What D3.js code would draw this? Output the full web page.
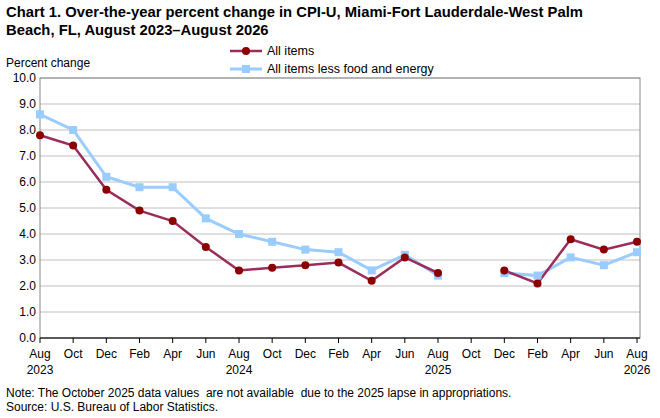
<!DOCTYPE html><html><head><meta charset="utf-8"><script src="https://cdn.jsdelivr.net/npm/d3@7"></script>
<style>body{margin:0;background:#fff}text{font-family:Arial,"Liberation Sans",sans-serif;white-space:pre}</style></head><body><svg id="c" width="660" height="418"></svg><script>
const months=["Aug","Oct","Dec","Feb","Apr","Jun","Aug","Oct","Dec","Feb","Apr","Jun","Aug","Oct","Dec","Feb","Apr","Jun","Aug"];
const years=["2023","","","","","","2024","","","","","","2025","","","","","","2026"];
const allItems=[7.8,7.4,5.7,4.9,4.5,3.5,2.6,2.7,2.8,2.9,2.2,3.1,2.5,null,2.6,2.1,3.8,3.4,3.7];
const core=[8.6,8.0,6.2,5.8,5.8,4.6,4.0,3.7,3.4,3.3,2.6,3.2,2.4,null,2.5,2.4,3.1,2.8,3.3];
const yTicks=d3.range(0,10.01,1);
const svg=d3.select("#c");
const L=40,R=640,T=78,B=338;
const x=d3.scaleLinear().domain([0,18]).range([L,R-3]);
const y=d3.scaleLinear().domain([0,10]).range([B,T]);
svg.append("text").attr("x",6).attr("y",17).attr("font-size",14.8).attr("font-weight","bold").text("Chart 1. Over-the-year percent change in CPI-U, Miami-Fort Lauderdale-West Palm");
svg.append("text").attr("x",6).attr("y",35).attr("font-size",14.8).attr("font-weight","bold").text("Beach, FL, August 2023\u2013August 2026");
svg.append("text").attr("x",6).attr("y",67).attr("font-size",12).text("Percent change");
svg.selectAll(".g").data(yTicks).join("line").attr("x1",L).attr("x2",R).attr("y1",d=>y(d)).attr("y2",d=>y(d)).attr("stroke","#c0c0c0");
svg.append("rect").attr("x",L).attr("y",T).attr("width",R-L).attr("height",B-T).attr("fill","none").attr("stroke","#888");
svg.append("line").attr("x1",L).attr("x2",R).attr("y1",B).attr("y2",B).attr("stroke","#000");
svg.selectAll(".yl").data(yTicks).join("text").attr("x",L-4).attr("y",d=>y(d)+4).attr("text-anchor","end").attr("font-size",12).text(d=>d.toFixed(1));
svg.selectAll(".xt").data(months).join("line").attr("x1",(d,i)=>x(i)).attr("x2",(d,i)=>x(i)).attr("y1",B).attr("y2",B+5).attr("stroke","#000");
svg.selectAll(".xl").data(months).join("text").attr("x",(d,i)=>x(i)).attr("y",B+20).attr("text-anchor","middle").attr("font-size",12).text(d=>d);
svg.selectAll(".yr").data(years).join("text").attr("x",(d,i)=>x(i)).attr("y",B+36).attr("text-anchor","middle").attr("font-size",12).text(d=>d);
const line=d3.line().defined(d=>d!=null).x((d,i)=>x(i)).y(d=>y(d));
const cb="#99CCFF", cr="#9B2D5B", cm="#8B0000";
svg.append("path").datum(core).attr("d",line).attr("fill","none").attr("stroke",cb).attr("stroke-width",3);
svg.append("path").datum(allItems).attr("d",line).attr("fill","none").attr("stroke",cr).attr("stroke-width",2.5);
core.forEach((d,i)=>{if(d!=null)svg.append("rect").attr("x",x(i)-4).attr("y",y(d)-4).attr("width",8).attr("height",8).attr("fill",cb);});
allItems.forEach((d,i)=>{if(d!=null)svg.append("circle").attr("cx",x(i)).attr("cy",y(d)).attr("r",4).attr("fill",cm);});
svg.append("line").attr("x1",230).attr("x2",262).attr("y1",51).attr("y2",51).attr("stroke",cr).attr("stroke-width",2.5);
svg.append("circle").attr("cx",246).attr("cy",51).attr("r",4).attr("fill",cm);
svg.append("text").attr("x",267).attr("y",55).attr("font-size",12.5).text("All items");
svg.append("line").attr("x1",230).attr("x2",262).attr("y1",69).attr("y2",69).attr("stroke",cb).attr("stroke-width",3);
svg.append("rect").attr("x",242).attr("y",65).attr("width",8).attr("height",8).attr("fill",cb);
svg.append("text").attr("x",267).attr("y",73).attr("font-size",12.5).text("All items less food and energy");
svg.append("text").attr("x",6).attr("y",397).attr("font-size",12).text("Note: The October 2025 data values  are not available  due to the 2025 lapse in appropriations.");
svg.append("text").attr("x",6).attr("y",411).attr("font-size",12).text("Source: U.S. Bureau of Labor Statistics.");
</script></body></html>
